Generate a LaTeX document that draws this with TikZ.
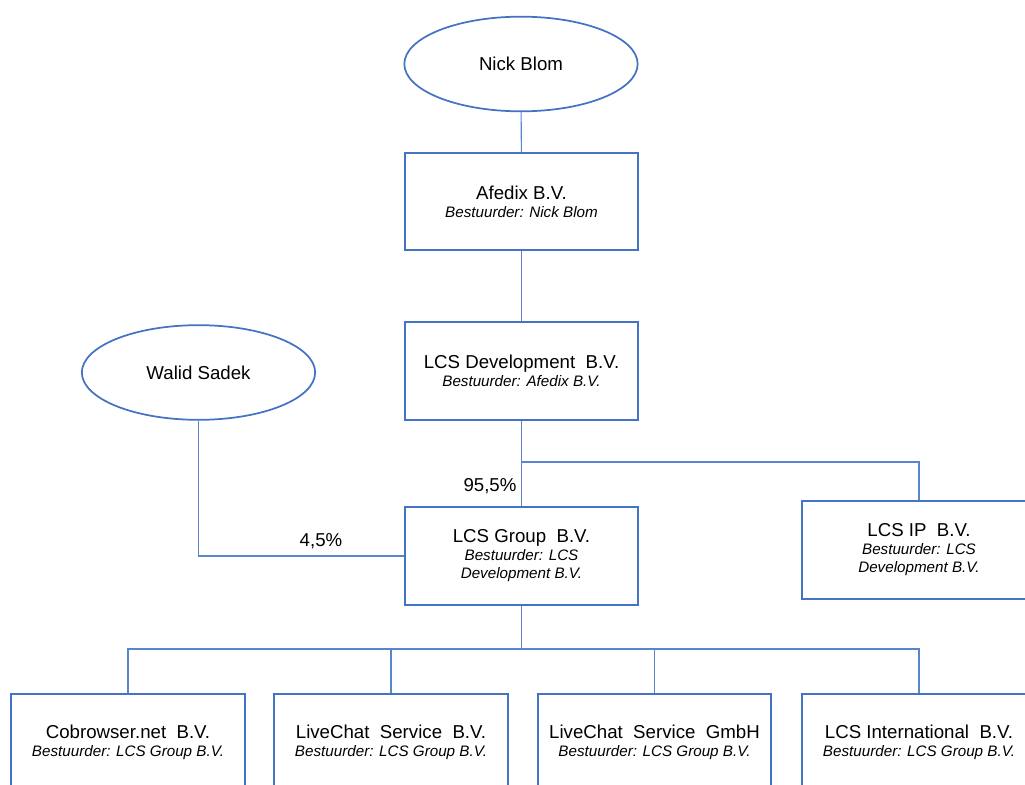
\documentclass[tikz,border=0pt]{standalone}
\usepackage{fontspec}
\setmainfont{Liberation Sans}
\usetikzlibrary{shapes.geometric}
\definecolor{boxblue}{HTML}{4472C4}
\definecolor{lineblue}{HTML}{5B84D0}
\newcommand{\ttl}[1]{{\fontsize{14}{13.5}\selectfont #1}}
\newcommand{\sub}[1]{{\fontsize{11.4}{13.5}\selectfont\itshape #1}}
\begin{document}
\begin{tikzpicture}[x=0.75pt,y=-0.75pt,
  entity/.style={draw=boxblue,line width=1.3pt,rectangle,inner sep=0pt,
    minimum width=175pt,minimum height=73pt,align=center,text=black,
    font=\fontsize{11.4}{13.5}\selectfont},
  person/.style={draw=boxblue,line width=1.3pt,ellipse,inner sep=0pt,
    minimum width=175pt,minimum height=71pt,align=center,text=black},
  conn/.style={draw=lineblue,line width=0.8pt},
  pct/.style={text=black,inner sep=0pt,font=\fontsize{14}{17}\selectfont}]
\useasboundingbox (0,0) rectangle (1025,785);
\node[person] (nick) at (521,64) {\ttl{Nick Blom}};
\node[entity] (afedix) at (521.5,201.5) {\ttl{Afedix B.V.}\\\sub{Bestuurder: Nick Blom}};
\node[entity] (dev) at (521.5,371) {\ttl{LCS Development\ \ B.V.}\\\sub{Bestuurder: Afedix B.V.}};
\node[person] (walid) at (198.5,372.5) {\ttl{Walid Sadek}};
\node[entity] (group) at (521.5,556) {\ttl{LCS Group\ \ B.V.}\\\sub{Bestuurder: LCS}\\\sub{Development B.V.}};
\node[entity] (ip) at (919,550) {\ttl{LCS IP\ \ B.V.}\\\sub{Bestuurder: LCS}\\\sub{Development B.V.}};
\node[entity] (cob) at (128,742.5) {\ttl{Cobrowser.net\ \ B.V.}\\\sub{Bestuurder: LCS Group B.V.}};
\node[entity] (lcb) at (391,742.5) {\ttl{LiveChat\ \ Service\ \ B.V.}\\\sub{Bestuurder: LCS Group B.V.}};
\node[entity] (lcg) at (654.5,742.5) {\ttl{LiveChat\ \ Service\ \ GmbH}\\\sub{Bestuurder: LCS Group B.V.}};
\node[entity] (intl) at (919,742.5) {\ttl{LCS International\ \ B.V.}\\\sub{Bestuurder: LCS Group B.V.}};
\coordinate (j1) at (521.5,462);
\coordinate (j2) at (521.5,649);
\draw[conn] (nick) -- (afedix);
\draw[conn] (afedix) -- (dev);
\draw[conn] (dev) -- (group);
\draw[conn] (j1) -| (ip.north);
\draw[conn] (walid.south) |- (group.west);
\draw[conn] (group.south) -- (j2);
\draw[conn] (j2) -| (cob.north);
\draw[conn] (j2) -| (lcb.north);
\draw[conn] (j2) -| (lcg.north);
\draw[conn] (j2) -| (intl.north);
\node[pct] (p1) at (490,486) {95,5\%};
\node[pct] (p2) at (321,541) {4,5\%};
\end{tikzpicture}
\end{document}
